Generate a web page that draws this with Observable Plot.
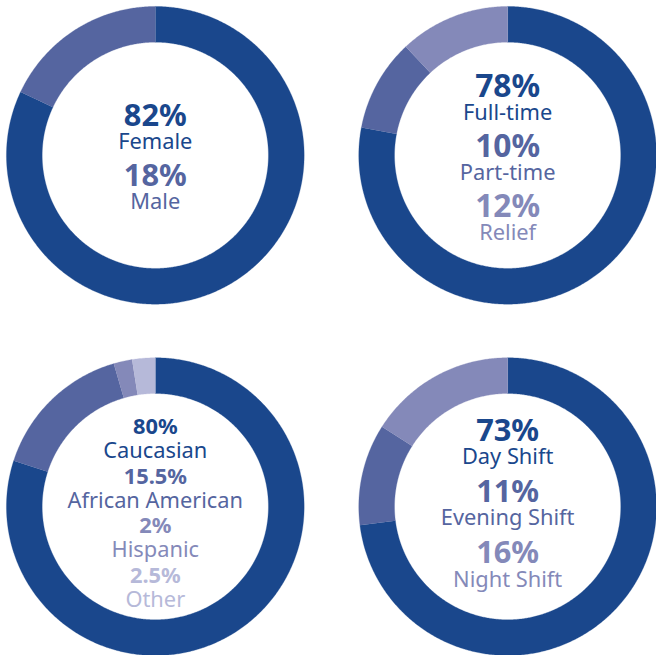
<!DOCTYPE html>
<html><head><meta charset="utf-8">
<script src="https://cdn.jsdelivr.net/npm/d3@7"></script>
<script src="https://cdn.jsdelivr.net/npm/@observablehq/plot@0.6"></script>
<style>
html,body{margin:0;padding:0;background:#fff;overflow:hidden}
#chart svg{display:block;overflow:visible}
</style>
</head><body><div id="chart"></div>
<script>
// ---- data ----
const chartNames = ["Gender", "Status", "Ethnicity", "Shift"];
const genderLabels = ["Female", "Male"];
const genderValues = [82, 18];
const statusLabels = ["Full-time", "Part-time", "Relief"];
const statusValues = [78, 10, 12];
const ethnicityLabels = ["Caucasian", "African American", "Hispanic", "Other"];
const ethnicityValues = [80, 15.5, 2, 2.5];
const shiftLabels = ["Day Shift", "Evening Shift", "Night Shift"];
const shiftValues = [73, 11, 16];

// ---- style ----
const palette = ["#1a478c", "#5565a0", "#8489b9", "#b6b9d9"];
const innerRatio = 114 / 150;
// per chart text layout: first number baseline (px from centre), group pitch, label gap, sizes
const textLayout = [
  {start: -30, pitch: 61, gap: 23.5, numSize: 31, labSize: 22},
  {start: -59, pitch: 60.5, gap: 23.5, numSize: 32, labSize: 22},
  {start: -73, pitch: 50, gap: 24, numSize: 22, labSize: 22},
  {start: -66, pitch: 61.5, gap: 23.5, numSize: 31, labSize: 22}
];

const series = [
  {labels: genderLabels, values: genderValues},
  {labels: statusLabels, values: statusValues},
  {labels: ethnicityLabels, values: ethnicityValues},
  {labels: shiftLabels, values: shiftValues}
];

const arcPts = [];
const numTexts = [];
const labTexts = [];
const pxPerUnit = 150;
series.forEach((s, ci) => {
  const col = ci % 2, row = Math.floor(ci / 2);
  const total = d3.sum(s.values);
  let cum = 0;
  s.values.forEach((v, i) => {
    const t0 = cum / total, t1 = (cum + v) / total;
    cum += v;
    const n = Math.max(2, Math.ceil((t1 - t0) * 720));
    const key = chartNames[ci] + "-" + s.labels[i];
    const pts = [];
    for (let k = 0; k <= n; k++) {
      const t = t0 + (t1 - t0) * k / n;
      pts.push([Math.sin(2 * Math.PI * t), Math.cos(2 * Math.PI * t)]);
    }
    for (let k = n; k >= 0; k--) {
      const t = t0 + (t1 - t0) * k / n;
      pts.push([innerRatio * Math.sin(2 * Math.PI * t), innerRatio * Math.cos(2 * Math.PI * t)]);
    }
    pts.forEach(([x, y]) => arcPts.push({x, y, key, color: palette[i], col, row}));
    const L = textLayout[ci];
    const nb = L.start + i * L.pitch;
    numTexts.push({x: 0, y: -nb / pxPerUnit, text: `${v}%`, color: palette[i], size: L.numSize, col, row});
    labTexts.push({x: 0, y: -(nb + L.gap) / pxPerUnit, text: s.labels[i], color: palette[i], size: L.labSize, col, row});
  });
});

const font = "'Noto Sans', 'Open Sans', sans-serif";
const chart = Plot.plot({
  width: 661, height: 660,
  marginLeft: 6, marginRight: 0, marginTop: 6, marginBottom: 0,
  style: {fontFamily: font, background: "#fff"},
  x: {domain: [-1, 1], axis: null},
  y: {domain: [-1, 1], axis: null},
  fx: {domain: [0, 1], axis: null, paddingInner: 0.155, paddingOuter: 0, round: false},
  fy: {domain: [0, 1], axis: null, paddingInner: 0.1525, paddingOuter: 0, round: false},
  color: {type: "identity"},
  marks: [
    Plot.line(arcPts, {x: "x", y: "y", z: "key", fill: "color", stroke: "color", strokeWidth: 0.3, fx: "col", fy: "row"}),
    Plot.text(numTexts, {x: "x", y: "y", text: "text", fill: "color", fontSize: "size", fontWeight: "bold", lineAnchor: "bottom", fontFamily: font, fx: "col", fy: "row"}),
    Plot.text(labTexts, {x: "x", y: "y", text: "text", fill: "color", fontSize: "size", lineAnchor: "bottom", fontFamily: font, fx: "col", fy: "row"})
  ]
});
document.getElementById("chart").append(chart);
</script>
</body></html>
